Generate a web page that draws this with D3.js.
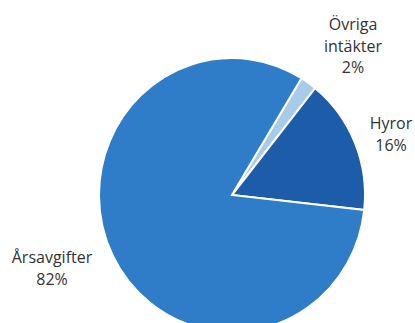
<!DOCTYPE html>
<html><head><meta charset="utf-8">
<script src="https://cdn.jsdelivr.net/npm/d3@7/dist/d3.min.js"></script>
<style>body{margin:0;background:#fff}svg{display:block}</style>
</head><body>
<svg id="c" width="415" height="323"></svg>
<script>
const categories = ["Övriga intäkter", "Hyror", "Årsavgifter"];
const values = [2, 16, 82];
const labelLines = [["Övriga", "intäkter", "2%"], ["Hyror", "16%"], ["Årsavgifter", "82%"]];
const colors = ["#a9cbea", "#1d5ca8", "#2f7cc9"];

const svg = d3.select("#c");
const cx = 232, cy = 195, r = 133, sy = 1.03;
const start = 31.5 * Math.PI / 180;
const pie = d3.pie().sort(null).startAngle(start).endAngle(start + 2 * Math.PI);
const arcs = pie(values);
const arc = d3.arc().innerRadius(0).outerRadius(r);
const g = svg.append("g").attr("transform", `translate(${cx},${cy}) scale(1,${sy})`);
g.selectAll("path").data(arcs).join("path")
  .attr("d", arc)
  .attr("fill", (d, i) => colors[i])
  .attr("stroke", "#fff").attr("stroke-width", 2).attr("stroke-linejoin", "miter");

const labelPos = [[353, 30], [391, 129], [52, 263]];
const lh = 21.5;
labelLines.forEach((lines, i) => {
  const t = svg.append("text")
    .attr("text-anchor", "middle")
    .attr("font-family", "'Open Sans', sans-serif")
    .attr("font-size", 16)
    .attr("fill", "#333");
  lines.forEach((s, j) => {
    t.append("tspan").attr("x", labelPos[i][0]).attr("y", labelPos[i][1] + j * lh).text(s);
  });
});
</script>
</body></html>
